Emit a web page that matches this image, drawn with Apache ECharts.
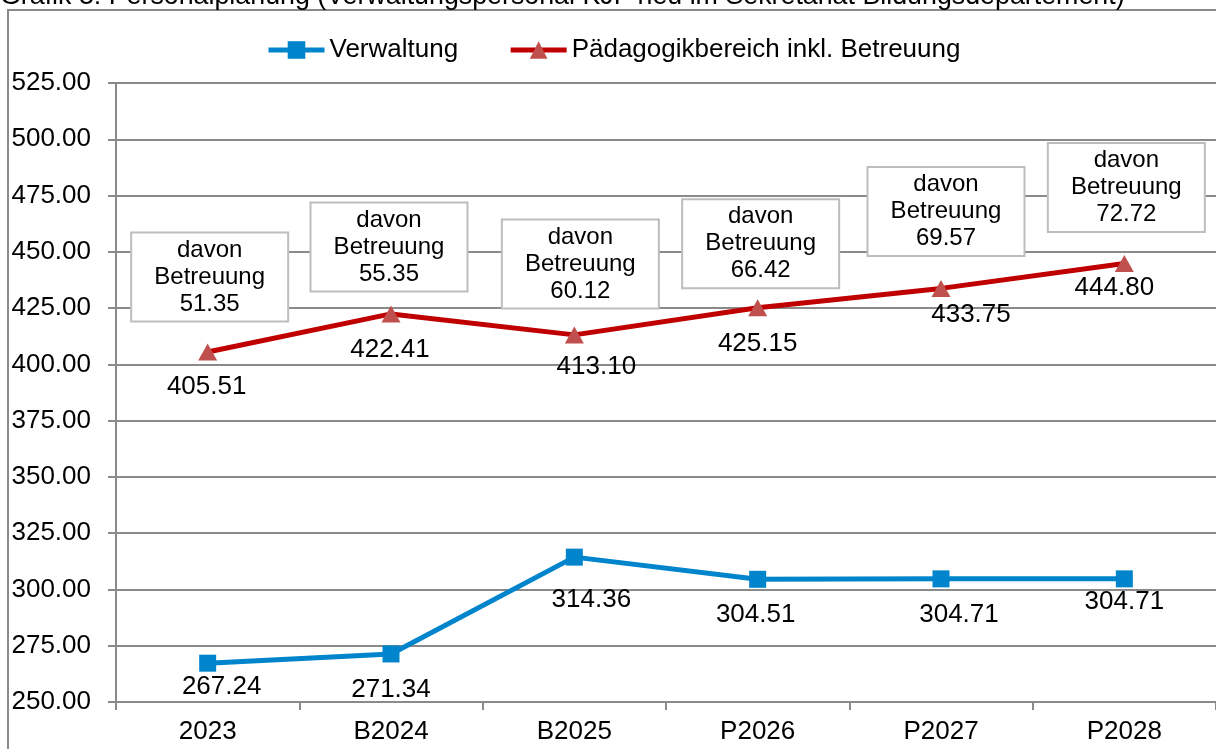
<!DOCTYPE html>
<html>
<head>
<meta charset="utf-8">
<script src="https://cdn.jsdelivr.net/npm/echarts@6/dist/echarts.min.js"></script>
<style>
html,body{margin:0;padding:0;background:#fff;}
#chart{width:1216px;height:749px;}
</style>
</head>
<body>
<div id="chart"></div>
<script>
// ---- data ----
const titleText = 'Grafik 3: Personalplanung (Verwaltungspersonal KJF neu im Sekretariat Bildungsdepartement)';
const categories = ['2023', 'B2024', 'B2025', 'P2026', 'P2027', 'P2028'];
const verwaltung = [267.24, 271.34, 314.36, 304.51, 304.71, 304.71];
const paedagogik = [405.51, 422.41, 413.10, 425.15, 433.75, 444.80];
const betreuung = [51.35, 55.35, 60.12, 66.42, 69.57, 72.72];
const seriesNames = ['Verwaltung', 'Pädagogikbereich inkl. Betreuung'];
const yMin = 250, yMax = 525, yStep = 25;

// ---- label placement (style, not data) ----
const blueLabelOffsets = [[14, 24], [0, 36], [17, 43], [-2, 36], [18, 36], [0, 23]];
const redLabelOffsets = [[-1, 35], [-1, 36], [22, 32], [0, 36], [30, 26], [-10, 24]];
const boxOffsets = [[2, -75], [-2, -67], [6, -71], [3, -64], [5, -77], [2, -76]];

const FONT = "'Liberation Sans', Arial, sans-serif";
const chart = echarts.init(document.getElementById('chart'));

function valueLabels(values, offsets) {
  return values.map((v, i) => ({
    value: v,
    label: { offset: offsets[i] }
  }));
}

const option = {
  backgroundColor: '#fff',
  animation: false,
  title: {
    text: titleText,
    left: 0,
    top: -17,
    padding: 0,
    textStyle: { fontFamily: FONT, fontSize: 26.8, fontWeight: 'normal', color: '#000' }
  },
  graphic: [{
    type: 'rect',
    z: -10,
    shape: { x: 8, y: 10, width: 1400, height: 900 },
    style: { fill: 'none', stroke: '#8a8a8a', lineWidth: 2 }
  }],
  legend: {
    left: 261,
    top: 32,
    itemWidth: 56,
    itemHeight: 22,
    itemGap: 50,
    data: seriesNames,
    lineStyle: { width: 5 },
    textStyle: { fontFamily: FONT, fontSize: 26, color: '#000' }
  },
  grid: { left: 116, top: 83, width: 1101, height: 619, containLabel: false },
  xAxis: {
    type: 'category',
    data: categories,
    boundaryGap: true,
    axisLine: { lineStyle: { color: '#8a8a8a', width: 2 } },
    axisTick: { show: true, length: 8, alignWithLabel: false, lineStyle: { color: '#8a8a8a', width: 2 } },
    axisLabel: { fontFamily: FONT, fontSize: 26, color: '#000', margin: 17 }
  },
  yAxis: {
    type: 'value',
    min: yMin, max: yMax, interval: yStep,
    axisLine: { show: true, lineStyle: { color: '#8a8a8a', width: 2 } },
    axisTick: { show: true, length: 8, lineStyle: { color: '#8a8a8a', width: 2 } },
    splitLine: { show: true, lineStyle: { color: '#8a8a8a', width: 2 } },
    axisLabel: {
      fontFamily: FONT, fontSize: 26, color: '#000', margin: 25,
      formatter: v => v.toFixed(2)
    }
  },
  series: [
    {
      name: seriesNames[0],
      type: 'line',
      data: valueLabels(verwaltung, blueLabelOffsets),
      symbol: 'rect',
      symbolSize: 17,
      itemStyle: { color: '#0085CC' },
      lineStyle: { color: '#0085CC', width: 5 },
      label: {
        show: true, position: 'inside', color: '#000',
        fontFamily: FONT, fontSize: 26, textBorderWidth: 0,
        formatter: p => p.value.toFixed(2)
      },
      z: 3
    },
    {
      name: seriesNames[1],
      type: 'line',
      data: valueLabels(paedagogik, redLabelOffsets),
      symbol: 'triangle',
      symbolSize: [19, 17],
      itemStyle: { color: '#C0504D' },
      lineStyle: { color: '#C00000', width: 5 },
      label: {
        show: true, position: 'inside', color: '#000',
        fontFamily: FONT, fontSize: 26, textBorderWidth: 0,
        formatter: p => p.value.toFixed(2)
      },
      z: 3
    },
    {
      name: 'Betreuung',
      type: 'line',
      data: paedagogik.map((v, i) => ({ value: v, label: { offset: boxOffsets[i] } })),
      symbol: 'circle',
      symbolSize: 1,
      showSymbol: true,
      silent: true,
      itemStyle: { color: 'rgba(0,0,0,0)' },
      lineStyle: { width: 0, opacity: 0 },
      label: {
        show: true, position: 'inside', color: '#000',
        fontFamily: FONT, fontSize: 24, lineHeight: 27, textBorderWidth: 0,
        align: 'center',
        width: 155,
        padding: [5, 0, 1, 0],
        backgroundColor: '#fff',
        borderColor: '#bdbdbd',
        borderWidth: 2,
        formatter: p => 'davon\nBetreuung\n' + betreuung[p.dataIndex].toFixed(2)
      },
      z: 4
    }
  ]
};
chart.setOption(option);
</script>
</body>
</html>
